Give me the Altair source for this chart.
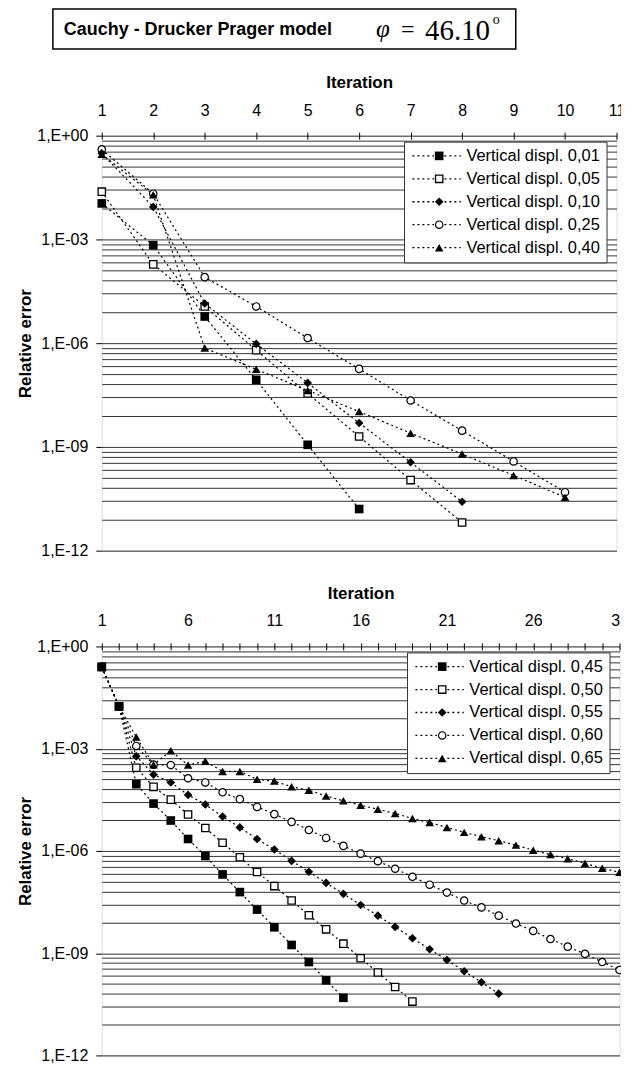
import altair as alt
import pandas as pd

FONT = "Liberation Sans"
SERIF = "Liberation Serif"

TITLE = "Cauchy - Drucker Prager model"
PHI = "\u03c6"
PHI_EQ = "="
PHI_NUM = "46.10"
DEGREE = "o"

# ---------------- top panel data ----------------
TOP_SERIES = ["Vertical displ. 0,01", "Vertical displ. 0,05", "Vertical displ. 0,10",
              "Vertical displ. 0,25", "Vertical displ. 0,40"]
top_d001 = [1.1e-2, 6.8e-4, 5.9e-6, 8.7e-8, 1.15e-9, 1.6e-11]
top_d005 = [2.4e-2, 1.9e-4, 1.15e-5, 6.3e-7, 3.5e-8, 2.0e-9, 1.1e-10, 6.5e-12]
top_d010 = [3.1e-1, 8.7e-3, 1.4e-5, 9.5e-7, 7.1e-8, 4.9e-9, 3.6e-10, 2.6e-11]
top_d025 = [4.0e-1, 2.1e-2, 8.1e-5, 1.15e-5, 1.4e-6, 1.8e-7, 2.2e-8, 2.95e-9, 3.8e-10, 4.9e-11]
top_d040 = [2.9e-1, 1.95e-2, 7.2e-7, 1.75e-7, 4.3e-8, 1.05e-8, 2.5e-9, 6.2e-10, 1.5e-10, 3.5e-11]

# ---------------- bottom panel data ----------------
BOT_SERIES = ["Vertical displ. 0,45", "Vertical displ. 0,50", "Vertical displ. 0,55",
              "Vertical displ. 0,60", "Vertical displ. 0,65"]
bot_d045 = [2.5e-1, 1.74e-2, 9.1e-5, 2.45e-5, 7.8e-6, 2.24e-6, 7.1e-7, 2.04e-7, 6.2e-8,
            1.9e-8, 5.75e-9, 1.74e-9, 5.5e-10, 1.6e-10, 4.9e-11]
bot_d050 = [2.5e-1, 1.74e-2, 2.75e-4, 7.6e-5, 3.2e-5, 1.17e-5, 4.7e-6, 1.74e-6, 6.5e-7,
            2.4e-7, 9.3e-8, 3.5e-8, 1.3e-8, 5.0e-9, 1.9e-9, 7.1e-10, 2.7e-10, 1.02e-10, 3.8e-11]
bot_d055 = [2.5e-1, 1.74e-2, 6.0e-4, 1.74e-4, 1.02e-4, 4.4e-5, 2.3e-5, 1.02e-5, 4.9e-6,
            2.24e-6, 1.1e-6, 5.1e-7, 2.45e-7, 1.15e-7, 5.5e-8, 2.6e-8, 1.26e-8, 5.9e-9,
            2.75e-9, 1.3e-9, 6.3e-10, 2.95e-10, 1.4e-10, 6.5e-11]
bot_d060 = [2.5e-1, 1.74e-2, 1.2e-3, 3.4e-4, 3.3e-4, 1.35e-4, 1.02e-4, 5.25e-5, 3.3e-5,
            1.95e-5, 1.2e-5, 7.1e-6, 4.1e-6, 2.4e-6, 1.4e-6, 8.3e-7, 5.0e-7, 3.0e-7,
            1.74e-7, 1.02e-7, 6.0e-8, 3.5e-8, 2.2e-8, 1.26e-8, 7.4e-9, 4.5e-9, 2.6e-9,
            1.55e-9, 9.5e-10, 5.5e-10, 3.2e-10]
bot_d065 = [2.5e-1, 1.74e-2, 2.2e-3, 3.4e-4, 8.7e-4, 3.3e-4, 4.3e-4, 2.15e-4, 2.15e-4,
            1.26e-4, 1.12e-4, 7.6e-5, 6.0e-5, 4.1e-5, 2.95e-5, 2.2e-5, 1.66e-5, 1.26e-5,
            8.9e-6, 6.8e-6, 4.9e-6, 3.5e-6, 2.6e-6, 2.0e-6, 1.48e-6, 1.05e-6, 7.8e-7,
            5.9e-7, 4.3e-7, 3.1e-7, 2.35e-7]

TOP_TICKS = list(range(1, 12))
BOT_TICKS = list(range(1, 32))
Y_MAJOR = [1, 1e-3, 1e-6, 1e-9, 1e-12]
Y_MINOR_PER_MILLE = [8, 27, 64, 125, 216, 343, 512, 729]
Y_GRID = [m * k / 1000 for m in Y_MAJOR[:-1] for k in Y_MINOR_PER_MILLE] + Y_MAJOR

# marker shapes: open markers are outline rings (outer path + reversed inner path)
RING_SQUARE = "M-1,-1H1V1H-1Z M-0.7,-0.7V0.7H0.7V-0.7Z"
RING_CIRCLE = ("M-1,0A1,1,0,1,1,1,0A1,1,0,1,1,-1,0Z "
               "M-0.72,0A0.72,0.72,0,1,0,0.72,0A0.72,0.72,0,1,0,-0.72,0Z")
SHAPES = ["square", RING_SQUARE, "diamond", RING_CIRCLE, "triangle-up"]
OPEN_INDEX = {1: "square", 3: "circle"}
LEGEND_LINE = "M-6.2,0L-1.2,0M1.2,0L5,0"   # dotted legend stroke around the marker

IS_MAJOR = "abs(log(datum.value)/LN10 - round(log(datum.value)/LN10)) < 0.01"
Y_LABEL = ("(" + IS_MAJOR + ") ? (datum.value > 0.5 ? '1,E+00' : '1,E-' + "
           "pad(toString(round(-log(datum.value)/LN10)), 2, '0', 'left')) : ''")


def long_frame(names, series):
    rows = []
    for name, vals in zip(names, series):
        for i, v in enumerate(vals, start=1):
            rows.append({"iter": i, "err": v, "series": name, "lseries": name})
    return pd.DataFrame(rows)


def panel(names, series, xticks, x_label_expr, width, height, legend_x, legend_y):
    df = long_frame(names, series)
    x = alt.X("iter:Q",
              scale=alt.Scale(domain=[xticks[0], xticks[-1]], nice=False, zero=False),
              axis=alt.Axis(orient="top", values=xticks, labelExpr=x_label_expr,
                            title="Iteration", grid=False, domain=False,
                            tickSize=7, offset=-3.5, tickColor="black", tickWidth=1,
                            labelFont=FONT, labelFontSize=16, labelColor="black",
                            labelPadding=14, labelFlush=False, labelOverlap=False,
                            titleFont=FONT, titleFontSize=17, titleFontWeight="bold",
                            titleColor="black", titlePadding=11))
    y = alt.Y("err:Q",
              scale=alt.Scale(type="log", domain=[1e-12, 1], nice=False),
              axis=alt.Axis(values=Y_GRID, labelExpr=Y_LABEL, grid=True,
                            gridColor="black", gridWidth=0.8, gridOpacity=1,
                            domain=False, tickSize=6, tickColor="black",
                            tickOpacity={"condition": {"test": IS_MAJOR, "value": 1},
                                         "value": 0},
                            labelFont=FONT, labelFontSize=16, labelColor="black",
                            labelPadding=8, labelFlush=False, labelOverlap=False,
                            title="Relative error", titleFont=FONT, titleFontSize=17,
                            titleFontWeight="bold", titleColor="black", titlePadding=2))

    common = dict(title=None, orient="none", legendX=legend_x, legendY=legend_y,
                  symbolSize=75, symbolOffset=21, labelFont=FONT, labelFontSize=16.5,
                  labelOffset=19, labelLimit=300, padding=6, rowPadding=6)
    line_legend = alt.Legend(symbolType=LEGEND_LINE, symbolStrokeWidth=1.3,
                             symbolStrokeColor="black", labelColor="black",
                             fillColor="white", strokeColor="#333333", zindex=1, **common)
    point_legend = alt.Legend(symbolOpacity=1, symbolFillColor="black",
                              labelExpr="''", zindex=2, **common)

    lines = alt.Chart(df).mark_line(strokeWidth=1.2, color="black").encode(
        x=x, y=y,
        strokeDash=alt.StrokeDash("lseries:N",
                                  scale=alt.Scale(range=[[2, 3]] * len(names)),
                                  legend=line_legend),
        order="iter:Q")
    backs = [alt.Chart(df).transform_filter(alt.datum.series == names[i]).mark_point(
                 shape=shp, filled=True, color="white", size=62, opacity=1).encode(x=x, y=y)
             for i, shp in OPEN_INDEX.items()]
    points = alt.Chart(df).mark_point(filled=True, size=75, color="black",
                                      opacity=1).encode(
        x=x, y=y,
        shape=alt.Shape("series:N", scale=alt.Scale(domain=names, range=SHAPES),
                        legend=point_legend))
    return [lines] + backs + [points], (width, height)


top_layers, top_size = panel(TOP_SERIES, [top_d001, top_d005, top_d010, top_d025, top_d040],
                             TOP_TICKS, "datum.label", 516, 416, 303, 6)
bot_layers, bot_size = panel(BOT_SERIES, [bot_d045, bot_d050, bot_d055, bot_d060, bot_d065],
                             BOT_TICKS, "(datum.value - 1) % 5 == 0 ? datum.label : ''",
                             519, 410, 306, 6)

# ---------------- boxed heading above the upper panel ----------------
tdf = pd.DataFrame({"k": [0]})
box = alt.Chart(tdf).mark_rect(fill="white", stroke="black", strokeWidth=1.5).encode(
    x=alt.value(-49), x2=alt.value(415), y=alt.value(-127), y2=alt.value(-87))
t_main = alt.Chart(tdf).mark_text(align="left", baseline="middle", font=FONT, fontSize=18,
                                  fontWeight="bold", color="black").encode(
    x=alt.value(-38), y=alt.value(-106), text=alt.value(TITLE))
t_phi = alt.Chart(tdf).mark_text(align="left", baseline="middle", font=SERIF, fontSize=25,
                                 fontStyle="italic", color="black").encode(
    x=alt.value(275), y=alt.value(-107), text=alt.value(PHI))
t_eq = alt.Chart(tdf).mark_text(align="left", baseline="middle", font=SERIF, fontSize=24,
                                color="black").encode(
    x=alt.value(300), y=alt.value(-106), text=alt.value(PHI_EQ))
t_num = alt.Chart(tdf).mark_text(align="left", baseline="middle", font=SERIF, fontSize=29,
                                 color="black").encode(
    x=alt.value(324), y=alt.value(-105), text=alt.value(PHI_NUM))
t_deg = alt.Chart(tdf).mark_text(align="left", baseline="middle", font=SERIF, fontSize=14,
                                 color="black").encode(
    x=alt.value(392), y=alt.value(-116), text=alt.value(DEGREE))

top = alt.layer(*top_layers, box, t_main, t_phi, t_eq, t_num, t_deg).properties(
    width=top_size[0], height=top_size[1])
bottom = alt.layer(*bot_layers).properties(width=bot_size[0], height=bot_size[1])

chart = alt.vconcat(top, bottom, spacing=24).resolve_scale(
    shape="independent", strokeDash="independent"
).resolve_legend(
    shape="independent", strokeDash="independent"
).properties(
    padding={"left": 8, "top": -2.3, "right": -8.5, "bottom": -1.5}
).configure_view(stroke="black", strokeWidth=1).configure(font=FONT)

chart.save("out.html", embed_options={"renderer": "svg", "actions": False})
